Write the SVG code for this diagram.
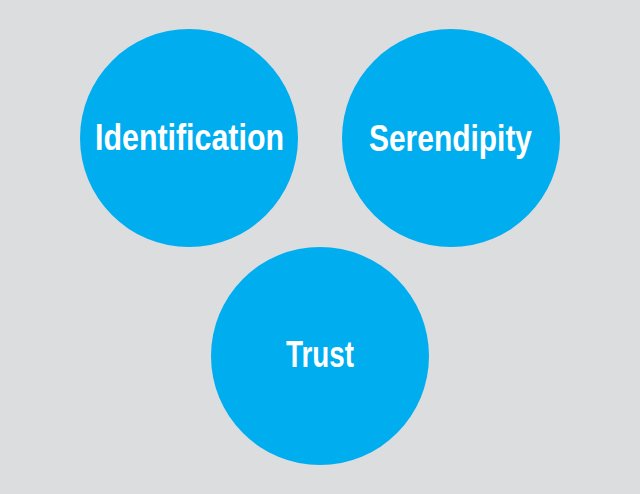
<svg xmlns="http://www.w3.org/2000/svg" width="640" height="494" viewBox="0 0 640 494">
<style>
.c{fill:#00adef}
.t{fill:#ffffff;font-family:"Liberation Sans",Arial,sans-serif;font-weight:bold;font-size:36px}
</style>
<rect width="640" height="494" fill="#dcdddf"/>
<g id="connectors"></g>
<g id="identification">
<circle class="c" cx="189" cy="138" r="109"/>
<text class="t" x="95" y="150" textLength="189" lengthAdjust="spacingAndGlyphs">Identification</text>
</g>
<g id="serendipity">
<circle class="c" cx="451" cy="138" r="109"/>
<text class="t" x="369" y="151" textLength="163" lengthAdjust="spacingAndGlyphs">Serendipity</text>
</g>
<g id="trust">
<circle class="c" cx="320" cy="356" r="109"/>
<text class="t" x="286" y="367" textLength="68" lengthAdjust="spacingAndGlyphs">Trust</text>
</g>
</svg>
